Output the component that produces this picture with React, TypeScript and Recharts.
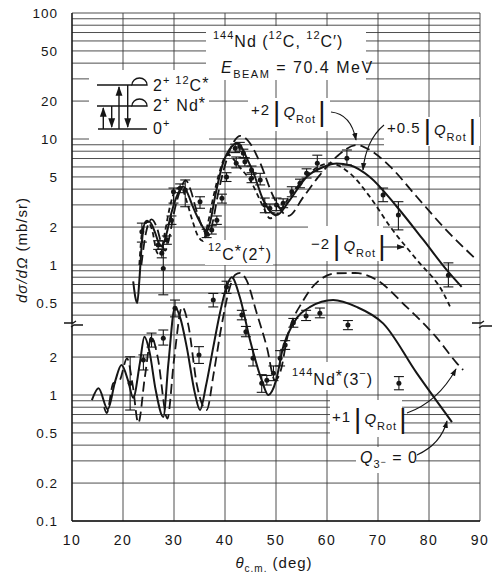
import React from 'react';
import {
  ComposedChart, Line, Scatter, ErrorBar, XAxis, YAxis, CartesianGrid, Customized,
} from 'recharts';

// ---- upper half: 12C*(2+) inelastic ----
// solid curve, +0.5|Q_Rot|
const c12HalfDeg = [22.0, 22.4, 22.8, 23.2, 23.7, 24.3, 25.2, 26.2, 27.0, 27.6, 28.5, 29.5, 30.8, 31.8, 32.8, 33.7, 35.4, 36.4, 37.2, 38.0, 39.6, 41.3, 42.3, 43.3, 44.3, 45.5, 47.5, 50.1, 52.7, 56.0, 59.3, 61.9, 64.5, 68.4, 73.7, 78.9, 83.5, 86.4];
const c12HalfVal = [0.74, 0.56, 0.5, 0.75, 1.5, 2.15, 2.2, 1.85, 1.5, 1.4, 1.75, 2.6, 3.7, 4.2, 3.6, 2.9, 2.08, 1.84, 2.3, 3.4, 6.4, 8.7, 9.25, 8.5, 7.0, 5.5, 3.28, 2.49, 3.28, 5.0, 6.0, 6.4, 6.2, 5.0, 2.9, 1.58, 0.91, 0.67];
// long dashes, +2|Q_Rot|
const c12PlusDeg = [23.6, 24.5, 25.6, 26.6, 27.6, 28.3, 29.0, 30.0, 31.2, 32.3, 33.3, 34.3, 35.8, 36.7, 37.6, 38.6, 40.3, 41.8, 43.0, 44.6, 46.9, 49.5, 52.4, 55.4, 58.3, 61.9, 65.8, 68.4, 72.4, 77.6, 82.8, 89.0];
const c12PlusVal = [1.0, 1.8, 2.3, 2.0, 1.45, 1.3, 1.6, 2.6, 3.9, 4.7, 3.9, 2.8, 1.9, 1.7, 2.2, 3.6, 6.8, 9.6, 10.6, 9.6, 6.45, 3.48, 2.45, 3.48, 5.0, 7.24, 8.96, 8.18, 6.03, 3.48, 2.01, 1.13];
// short dashes, -2|Q_Rot|
const c12MinusDeg = [23.2, 23.8, 24.7, 25.7, 26.7, 27.3, 28.2, 29.2, 30.4, 31.4, 32.4, 33.4, 34.7, 35.7, 36.6, 37.6, 39.0, 40.0, 40.7, 41.4, 43.0, 44.9, 47.5, 48.8, 50.5, 52.5, 55.3, 58.3, 60.6, 64.5, 68.4, 72.4, 77.6, 82.8, 84.1];
const c12MinusVal = [1.0, 1.9, 2.25, 1.9, 1.25, 1.2, 1.8, 2.9, 4.0, 4.15, 3.3, 2.4, 1.7, 1.55, 2.1, 3.3, 5.6, 7.2, 7.5, 7.1, 5.9, 4.73, 2.9, 2.35, 2.6, 3.4, 4.73, 6.03, 6.41, 5.34, 3.48, 2.01, 1.1, 0.6, 0.47];
// measured points with error bars
const c12PtDeg = [23.7, 26.9, 27.6, 27.9, 28.6, 29.5, 29.9, 31.2, 32.2, 35.1, 36.4, 37.4, 38.4, 39.4, 40.3, 42.0, 42.2, 42.9, 43.6, 43.9, 45.2, 45.2, 46.9, 47.8, 48.8, 50.1, 51.4, 53.1, 54.7, 56.0, 58.1, 63.9, 71.0, 74.0, 83.8];
const c12PtVal = [1.84, 1.44, 1.24, 0.94, 1.58, 2.27, 3.82, 4.06, 3.94, 3.18, 1.78, 1.9, 2.27, 3.38, 5.0, 8.44, 6.41, 8.7, 7.7, 6.6, 5.67, 4.88, 4.73, 2.99, 2.82, 2.99, 3.09, 3.82, 4.45, 5.34, 6.41, 7.03, 3.59, 2.49, 0.83];
const c12PtLo = [1.52, 1.33, 1.14, 0.58, 1.46, 2.1, 3.1, 3.75, 2.9, 2.82, 1.65, 1.76, 2.1, 3.1, 4.6, 7.8, 5.9, 8.0, 7.1, 6.1, 5.25, 4.5, 4.32, 2.6, 2.6, 2.7, 2.85, 3.48, 4.1, 4.9, 5.5, 6.22, 3.18, 1.9, 0.67];
const c12PtHi = [2.15, 1.56, 1.34, 1.55, 1.7, 2.45, 4.08, 4.4, 4.73, 3.48, 1.92, 2.05, 2.45, 3.65, 5.4, 9.1, 7.2, 9.4, 8.3, 7.1, 6.1, 5.4, 5.34, 3.4, 3.05, 3.4, 3.35, 4.18, 4.8, 5.8, 7.44, 8.18, 4.08, 3.18, 1.04];

// ---- lower half: 144Nd*(3-), values on the lower axis ----
// solid, Q3- = 0
const ndZeroDeg = [13.9, 15.2, 17.0, 18.5, 19.7, 21.0, 22.0, 23.3, 24.2, 25.2, 26.4, 27.9, 28.9, 30.2, 31.3, 32.5, 34.1, 35.1, 36.3, 37.7, 39.0, 40.2, 41.3, 42.9, 44.9, 47.2, 48.5, 50.0, 51.4, 53.4, 56.7, 61.2, 65.8, 71.0, 77.6, 84.5];
const ndZeroVal = [0.91, 1.13, 0.77, 1.3, 1.73, 1.3, 0.95, 1.78, 2.9, 2.2, 1.1, 0.67, 1.78, 5.0, 4.0, 2.4, 1.03, 0.76, 1.2, 2.4, 4.45, 7.0, 8.6, 6.0, 2.73, 1.31, 1.0, 1.3, 2.4, 3.7, 5.0, 5.67, 5.0, 3.7, 1.49, 0.61];
// long dashes, +1|Q_Rot|
const ndRotDeg = [16.3, 16.8, 18.1, 19.3, 20.8, 21.9, 23.0, 24.3, 25.6, 26.8, 28.7, 30.0, 31.6, 32.8, 34.5, 36.4, 37.8, 39.3, 40.8, 42.0, 43.0, 44.2, 46.2, 48.2, 49.8, 51.0, 52.1, 55.4, 58.6, 61.9, 65.5, 69.7, 75.6, 81.5, 85.4, 86.7];
const ndRotVal = [0.8, 0.72, 1.24, 1.3, 1.95, 1.2, 0.6, 1.4, 2.9, 2.0, 0.65, 1.9, 5.0, 3.6, 1.2, 0.76, 1.5, 3.5, 6.8, 9.0, 9.3, 8.2, 4.5, 2.4, 1.31, 1.6, 2.73, 5.67, 8.2, 9.25, 9.3, 8.2, 5.0, 2.85, 1.8, 1.58];
const ndPtDeg = [21.4, 24.0, 25.6, 27.9, 30.2, 34.9, 37.7, 40.3, 43.3, 44.1, 45.5, 47.2, 48.2, 49.5, 50.8, 51.8, 53.4, 55.9, 58.6, 64.1, 74.1];
const ndPtVal = [1.24, 1.9, 2.73, 2.82, 4.88, 2.08, 5.67, 7.2, 4.32, 3.18, 1.96, 1.24, 1.31, 1.49, 1.96, 2.49, 3.75, 4.24, 4.45, 3.59, 1.24];
const ndPtLo = [0.76, 1.58, 2.4, 2.49, 4.17, 1.78, 5.0, 6.4, 3.95, 2.9, 1.7, 1.05, 1.2, 1.3, 1.7, 2.3, 3.45, 3.9, 4.1, 3.3, 1.1];
const ndPtHi = [2.01, 2.08, 3.1, 3.28, 5.67, 2.42, 6.4, 8.0, 4.7, 3.5, 2.3, 1.45, 1.43, 1.7, 2.25, 2.7, 4.05, 4.7, 4.9, 3.9, 1.4];

// axis ticks / grid
const xTicks = [10, 20, 30, 40, 50, 60, 70, 80, 90];
const yTicksUpper = [0.5, 1, 2, 5, 10, 20, 50, 100];
const yTicksLower = [0.1, 0.2, 0.5, 1, 2];
const gridUpper = [0.4, 0.5, 0.6, 0.7, 0.8, 0.9, 1, 2, 3, 4, 5, 6, 7, 8, 9, 10, 20, 30, 40, 50, 60, 70, 80, 90, 100];
const gridLower = [0.1, 0.2, 0.3, 0.4, 0.5, 0.6, 0.7, 0.8, 0.9, 1, 2, 3];

// broken axis: the lower half sits ~1.03 decades below the upper one on one log scale
const BREAK = Math.pow(10, -130 / 126);
const Y_MIN = 0.1 * BREAK;

const INK = '#161616';
const FONT = '"Liberation Sans", Arial, Helvetica, sans-serif';

const curve = (deg: number[], val: number[], f = 1) => deg.map((d, i) => ({ x: d, y: val[i] * f }));
const points = (deg: number[], val: number[], lo: number[], hi: number[], f = 1) =>
  deg.map((d, i) => ({ x: d, y: val[i] * f, e: [(val[i] - lo[i]) * f, (hi[i] - val[i]) * f] }));

const fmt = (v: number) => String(parseFloat(v.toPrecision(3)));
const yLabel = (v: number) => (v > 0.3 ? fmt(v) : fmt(v / BREAK));

const Dot = (p: any) => <circle cx={p.cx} cy={p.cy} r={2.5} fill={INK} />;

function QRot({ x, y, sign }: { x: number; y: number; sign: string }) {
  return (
    <text x={x} y={y} fontSize={15} letterSpacing={1}>
      <tspan>{sign}</tspan>
      <tspan fontSize={28} dx={3} dy={6}>|</tspan>
      <tspan fontStyle="italic" dx={2} dy={-4}>Q</tspan>
      <tspan fontSize={11} dy={6}>Rot</tspan>
      <tspan fontSize={28} dx={2} dy={-2}>|</tspan>
    </text>
  );
}

function Annotations() {
  const boxes = [
    [206, 26, 160, 54], [89, 70, 120, 70], [248, 98, 82, 33], [384, 117, 96, 29],
    [308, 226, 75, 35], [205, 240, 68, 25], [290, 362, 86, 28], [330, 400, 72, 37], [356, 447, 60, 26],
  ];
  return (
    <g fontFamily={FONT} fill={INK}>
      <defs>
        <marker id="ah" viewBox="0 0 10 10" refX="9" refY="5" markerWidth="7" markerHeight="7" orient="auto">
          <path d="M0,1.5 L10,5 L0,8.5 z" fill={INK} />
        </marker>
      </defs>
      {boxes.map(([x, y, w, h], i) => <rect key={i} x={x} y={y} width={w} height={h} fill="#fff" />)}

      {/* reaction title */}
      <text x={213} y={47} fontSize={16} letterSpacing={1}>
        <tspan fontSize={11} dy={-8}>144</tspan><tspan dy={8}>Nd (</tspan>
        <tspan fontSize={11} dy={-8}>12</tspan><tspan dy={8}>C, </tspan>
        <tspan fontSize={11} dy={-8}>12</tspan><tspan dy={8}>C′)</tspan>
      </text>
      <text x={221} y={73} fontSize={16} letterSpacing={1.5}>
        <tspan fontStyle="italic">E</tspan><tspan fontSize={11} dy={5}>BEAM</tspan>
        <tspan dy={-5}> = 70.4 MeV</tspan>
      </text>

      {/* level scheme */}
      <g stroke={INK} strokeWidth={1.4} fill="none">
        <path d="M97,85 H132 M97,106 H132 M98,129 H147" />
        <path d="M132,85 A7.5,7 0 0 1 147,85 Z M132,106 A7.5,7 0 0 1 147,106 Z" />
        <path d="M103.3,129 V108" markerEnd="url(#ah)" />
        <path d="M111.7,106 V127" markerEnd="url(#ah)" />
        <path d="M119,129 V87" markerEnd="url(#ah)" />
        <path d="M127.7,85 V127" markerEnd="url(#ah)" />
      </g>
      <text x={153} y={91} fontSize={16} letterSpacing={1}>
        2<tspan fontSize={11} dy={-7}>+</tspan><tspan fontSize={11} dx={5}>12</tspan><tspan dy={7}>C</tspan><tspan dy={-2}>*</tspan>
      </text>
      <text x={153} y={111} fontSize={16} letterSpacing={1}>
        2<tspan fontSize={11} dy={-7}>+</tspan><tspan dx={6} dy={7}>Nd</tspan><tspan dy={-2}>*</tspan>
      </text>
      <text x={153} y={134} fontSize={16} letterSpacing={1}>
        0<tspan fontSize={11} dy={-7}>+</tspan>
      </text>

      {/* curve labels */}
      <QRot x={251} y={115} sign="+2" />
      <QRot x={387} y={133} sign="+0.5" />
      <QRot x={311} y={249} sign="−2" />
      <QRot x={332} y={422} sign="+1" />
      <text x={208} y={260} fontSize={16} letterSpacing={1}>
        <tspan fontSize={11} dy={-9}>12</tspan><tspan dy={9}>C</tspan><tspan dy={-3}>*</tspan><tspan dy={3}>(2</tspan><tspan fontSize={11} dy={-8}>+</tspan><tspan dy={8}>)</tspan>
      </text>
      <text x={292} y={385} fontSize={16} letterSpacing={1}>
        <tspan fontSize={11} dy={-9}>144</tspan><tspan dy={9}>Nd</tspan><tspan dy={-3}>*</tspan><tspan dy={3}>(3</tspan><tspan fontSize={11} dy={-8}>−</tspan><tspan dy={8}>)</tspan>
      </text>
      <text x={360} y={463} fontSize={16} letterSpacing={1}>
        <tspan fontStyle="italic">Q</tspan><tspan fontSize={11} dy={5}>3</tspan><tspan fontSize={9} dy={-3}>−</tspan><tspan dy={-2}> = 0</tspan>
      </text>

      {/* leaders */}
      <g stroke={INK} strokeWidth={1.1} fill="none">
        <path d="M331,112 Q351,114 356,140" markerEnd="url(#ah)" />
        <path d="M384,125 Q366,140 363,170" markerEnd="url(#ah)" />
        <path d="M382,247 H404" markerEnd="url(#ah)" />
        <path d="M407,413 Q438,402 456,369" markerEnd="url(#ah)" />
        <path d="M417,455 Q441,444 447,421" markerEnd="url(#ah)" />
      </g>

      {/* axis break marks */}
      <g stroke={INK} strokeWidth={1.3} fill="none">
        <path d="M64,325 H83" stroke="#fff" strokeWidth={2.5} />
        <path d="M64,323 H73 L76,321 M71,327 L74,325 H83" />
        <path d="M472,323 H481 L484,321 M479,328 L482,326 H492" />
      </g>

      {/* axis titles */}
      <text transform="translate(27,250) rotate(-90)" textAnchor="middle" fontSize={15} letterSpacing={1}>
        <tspan fontStyle="italic">dσ/dΩ</tspan> (mb/sr)
      </text>
      <text x={274} y={568} textAnchor="middle" fontSize={15} letterSpacing={1}>
        <tspan fontStyle="italic">θ</tspan><tspan fontSize={10} dy={4}>c.m.</tspan><tspan dy={-4}> (deg)</tspan>
      </text>
    </g>
  );
}

export default function App() {
  const c12Half = curve(c12HalfDeg, c12HalfVal);
  const c12Plus = curve(c12PlusDeg, c12PlusVal);
  const c12Minus = curve(c12MinusDeg, c12MinusVal);
  const ndZero = curve(ndZeroDeg, ndZeroVal, BREAK);
  const ndRot = curve(ndRotDeg, ndRotVal, BREAK);
  const c12Pts = points(c12PtDeg, c12PtVal, c12PtLo, c12PtHi);
  const ndPts = points(ndPtDeg, ndPtVal, ndPtLo, ndPtHi, BREAK);
  const yTicks = [...yTicksLower.map((v) => v * BREAK), ...yTicksUpper];
  const gridY = [...gridLower.map((v) => v * BREAK), ...gridUpper];
  const tick = { fontSize: 14, fill: INK, fontFamily: FONT, letterSpacing: 1.5 };

  return (
    <div style={{ position: 'absolute', left: 0, top: 0, background: '#fff' }}>
      <ComposedChart width={494} height={579} margin={{ top: 13, right: 14, bottom: 28, left: 12 }}>
        <CartesianGrid horizontalValues={gridY} verticalValues={xTicks} stroke="#3a3a3a" strokeWidth={0.9} />
        <Customized component={Annotations} />
        <XAxis
          dataKey="x" type="number" domain={[10, 90]} ticks={xTicks} allowDataOverflow
          height={30} tickLine={false} tickSize={0} tickMargin={14} tick={tick}
          axisLine={{ stroke: INK, strokeWidth: 1.3 }}
        />
        <YAxis
          dataKey="y" type="number" scale="log" domain={[Y_MIN, 100]} ticks={yTicks} allowDataOverflow
          width={60} tickLine={false} tickSize={0} tickMargin={14} tick={{ ...tick, fontSize: 13.5, letterSpacing: 1 }}
          tickFormatter={yLabel} interval={0} axisLine={{ stroke: INK, strokeWidth: 1.3 }}
        />
        <Line data={c12Half} dataKey="y" type="monotone" stroke={INK} strokeWidth={2} dot={false} isAnimationActive={false} />
        <Line data={c12Plus} dataKey="y" type="monotone" stroke={INK} strokeWidth={1.8} strokeDasharray="10 5" dot={false} isAnimationActive={false} />
        <Line data={c12Minus} dataKey="y" type="monotone" stroke={INK} strokeWidth={1.8} strokeDasharray="5 3.5" dot={false} isAnimationActive={false} />
        <Line data={ndZero} dataKey="y" type="monotone" stroke={INK} strokeWidth={2} dot={false} isAnimationActive={false} />
        <Line data={ndRot} dataKey="y" type="monotone" stroke={INK} strokeWidth={1.8} strokeDasharray="10 5" dot={false} isAnimationActive={false} />
        <Scatter data={c12Pts} dataKey="y" shape={Dot} isAnimationActive={false}>
          <ErrorBar dataKey="e" direction="y" width={5} stroke={INK} strokeWidth={1.1} isAnimationActive={false} />
        </Scatter>
        <Scatter data={ndPts} dataKey="y" shape={Dot} isAnimationActive={false}>
          <ErrorBar dataKey="e" direction="y" width={5} stroke={INK} strokeWidth={1.1} isAnimationActive={false} />
        </Scatter>
      </ComposedChart>
    </div>
  );
}
